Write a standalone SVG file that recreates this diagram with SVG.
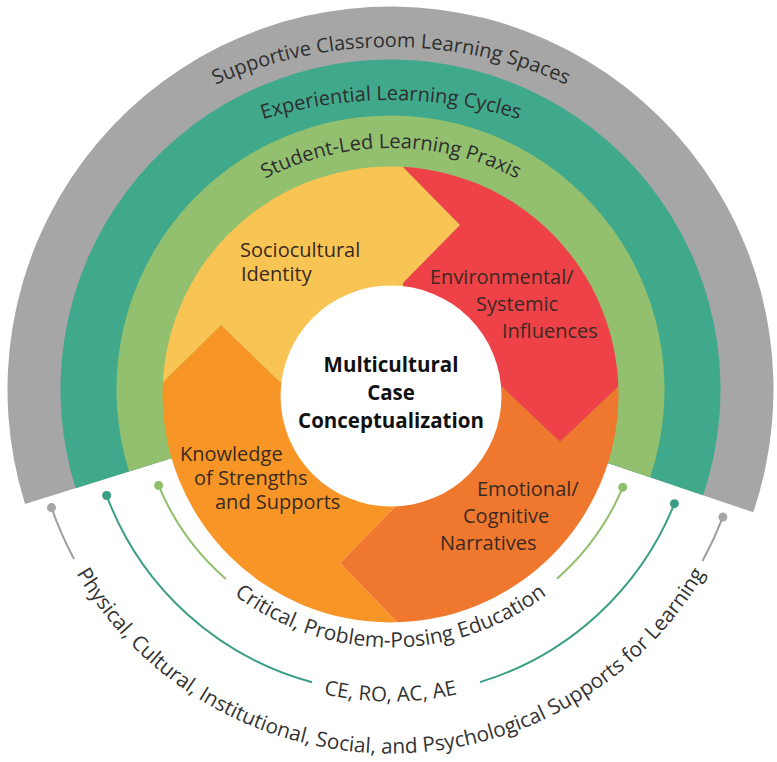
<svg xmlns="http://www.w3.org/2000/svg" width="777" height="762" viewBox="0 0 777 762">
  <style>
    .lbl { font-family: "Open Sans", "Liberation Sans", sans-serif; font-size: 20px; fill: #3a2a22; }
    .ctr { font-family: "Open Sans", "Liberation Sans", sans-serif; font-size: 20.5px; font-weight: bold; fill: #111; text-anchor: middle; }
    .ring { font-family: "Open Sans", "Liberation Sans", sans-serif; font-size: 20px; fill: #2e2e2e; }
    .bot { font-family: "Open Sans", "Liberation Sans", sans-serif; font-size: 20.8px; fill: #333; }
    .ln { fill: none; stroke-width: 2; }
  </style>
  <defs>
    <clipPath id="diskClip"><circle cx="390.5" cy="394.5" r="228"/></clipPath>
    <path id="pGray" d="M-37,475 A428,428 0 0 1 819,475"/>
    <path id="pTeal" d="M-47,538 A438,438 0 0 1 829,538"/>
    <path id="pGreen" d="M119,420 A272,272 0 0 1 663,420"/>
    <path id="bGray" d="M26.5,389.5 A364,364 0 0 0 754.5,389.5"/>
    <path id="bTeal" d="M78.5,389.5 A312,312 0 0 0 702.5,389.5"/>
    <path id="bGreen" d="M132.5,389.5 A258,258 0 0 0 648.5,389.5"/>
  </defs>
  <rect x="0" y="0" width="777" height="762" fill="#ffffff"/>

  <g id="ring-supportive-spaces">
    <path d="M390.5,389.5 L25.03,504.03 A383,383 0 1 1 753.28,512.29 Z" fill="#a6a6a6"/>
    <text class="ring"><textPath href="#pGray" startOffset="50%" text-anchor="middle">Supportive Classroom Learning Spaces</textPath></text>
  </g>
  <g id="ring-experiential-cycles">
    <path d="M390.5,389.5 L75.60,488.18 A330,330 0 1 1 703.08,495.30 Z" fill="#40a98b"/>
    <text class="ring"><textPath href="#pTeal" startOffset="50%" text-anchor="middle">Experiential Learning Cycles</textPath></text>
  </g>
  <g id="ring-student-led-praxis">
    <path d="M390.5,389.5 L129.04,471.44 A274,274 0 1 1 650.04,477.35 Z" fill="#92c06e"/>
    <text class="ring"><textPath href="#pGreen" startOffset="50%" text-anchor="middle">Student-Led Learning Praxis</textPath></text>
  </g>

  <g id="seg-knowledge">
    <path clip-path="url(#diskClip)" d="M140,382 L163,382 L221,325 L280,382 L300,382 L391,392 L397,480 L397,505 L340,563 L397,622 L397,650 L140,650 Z" fill="#f79626"/>
    <text class="lbl" x="180" y="461">Knowledge</text>
    <text class="lbl" x="194" y="485">of Strengths</text>
    <text class="lbl" x="215" y="509">and Supports</text>
  </g>
  <g id="seg-sociocultural">
    <path clip-path="url(#diskClip)" d="M403,140 L403,167 L460,225 L403,283 L403,320 L391,392 L300,382 L280,382 L221,325 L163,382 L140,382 L140,140 Z" fill="#f8c454"/>
    <text class="lbl" x="240" y="257">Sociocultural</text>
    <text class="lbl" x="241" y="281">Identity</text>
  </g>
  <g id="seg-environmental">
    <path clip-path="url(#diskClip)" d="M403,140 L640,140 L640,387 L618,387 L560,442 L502,387 L480,387 L391,392 L403,320 L403,283 L460,225 L403,167 Z" fill="#ee4248"/>
    <text class="lbl" x="430" y="284">Environmental/</text>
    <text class="lbl" x="476" y="311">Systemic</text>
    <text class="lbl" x="502" y="338">Influences</text>
  </g>
  <g id="seg-emotional">
    <path clip-path="url(#diskClip)" d="M640,387 L640,650 L397,650 L397,622 L340,563 L397,505 L397,480 L391,392 L480,387 L502,387 L560,442 L618,387 Z" fill="#f0782e"/>
    <text class="lbl" x="477" y="496">Emotional/</text>
    <text class="lbl" x="463" y="523">Cognitive</text>
    <text class="lbl" x="440" y="550">Narratives</text>
  </g>

  <g id="center">
    <circle cx="391" cy="396" r="110.5" fill="#ffffff"/>
    <text class="ctr" x="391" y="372">Multicultural</text>
    <text class="ctr" x="391" y="400">Case</text>
    <text class="ctr" x="391" y="428">Conceptualization</text>
  </g>

  <g id="connectors">
    <path class="ln" stroke="#9e9e9e" d="M51.47,507.56 A359,359 0 0 0 74.11,559.15"/>
    <path class="ln" stroke="#9e9e9e" d="M702.47,561.00 A356,356 0 0 0 722.85,517.08"/>
    <circle cx="51.47" cy="507.56" r="4.5" fill="#a6a6a6"/>
    <circle cx="722.85" cy="517.08" r="4.5" fill="#a6a6a6"/>
    <path class="ln" stroke="#3a9e84" d="M106.65,495.5 A303,303 0 0 0 312.08,682.18"/>
    <path class="ln" stroke="#3a9e84" d="M479.97,682.13 A306,306 0 0 0 674.42,503.64"/>
    <circle cx="106.65" cy="495.5" r="4.5" fill="#3a9e84"/>
    <circle cx="674.42" cy="503.64" r="4.5" fill="#3a9e84"/>
    <path class="ln" stroke="#8fbf6c" d="M158.61,485.55 A251,251 0 0 0 225.83,578.93"/>
    <path class="ln" stroke="#8fbf6c" d="M556.93,578.72 A252,252 0 0 0 622.74,487.33"/>
    <circle cx="158.61" cy="485.55" r="4.5" fill="#8fbf6c"/>
    <circle cx="622.74" cy="487.33" r="4.5" fill="#8fbf6c"/>
  </g>

  <g id="label-supports">
    <text class="bot"><textPath href="#bGray" startOffset="50%" text-anchor="middle">Physical, Cultural, Institutional, Social, and Psychological Supports for Learning</textPath></text>
  </g>
  <g id="label-cycle-modes">
    <text class="bot" style="font-size:20.5px"><textPath href="#bTeal" startOffset="50%" text-anchor="middle">CE, RO, AC, AE</textPath></text>
  </g>
  <g id="label-critical-education">
    <text class="bot" style="font-size:21px"><textPath href="#bGreen" startOffset="50%" text-anchor="middle">Critical, Problem-Posing Education</textPath></text>
  </g>
</svg>
